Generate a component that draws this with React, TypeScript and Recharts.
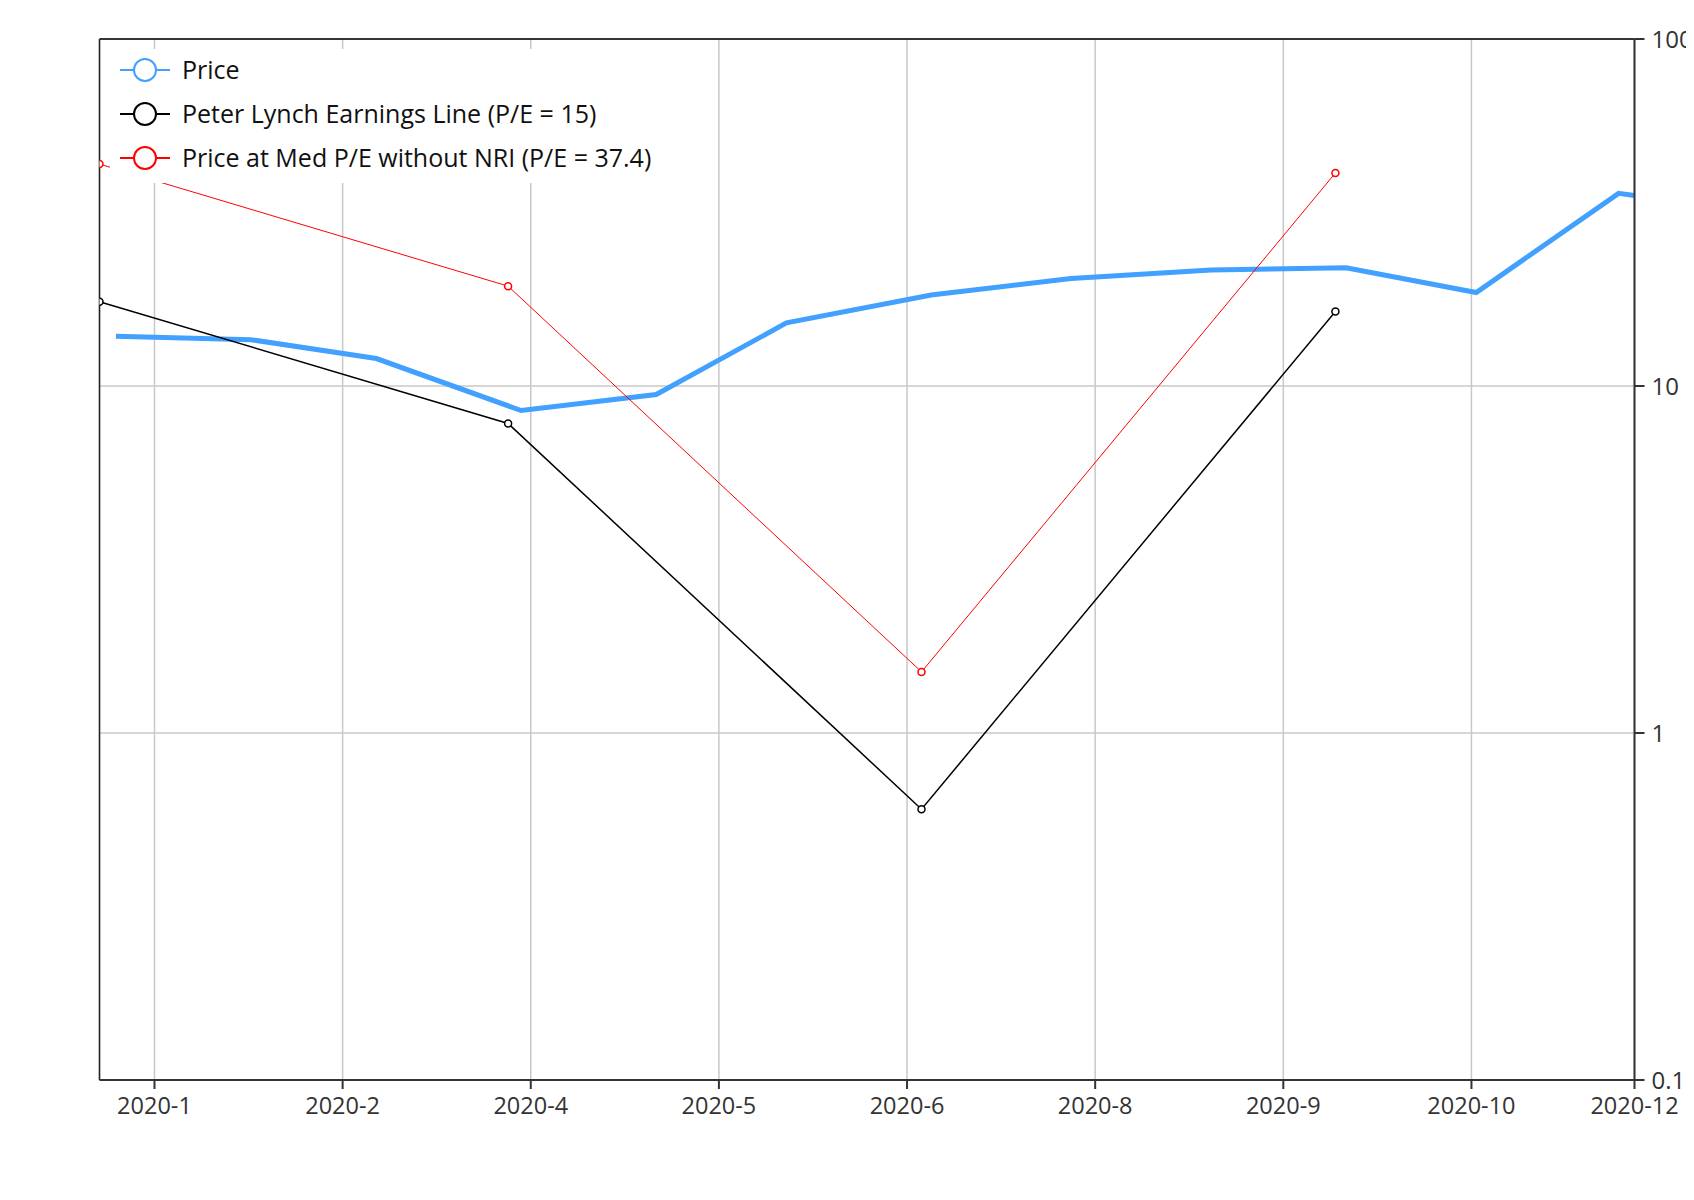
import { LineChart, Line, XAxis, YAxis, CartesianGrid, ReferenceLine } from 'recharts';

// x positions are days counted from 2020-01-01
const xDomain = [7.6, 325.8];
const xTicks = [19, 58, 97, 136, 175, 214, 253, 292, 325.8];
const xTickLabels = ['2020-1', '2020-2', '2020-4', '2020-5', '2020-6', '2020-8', '2020-9', '2020-10', '2020-12'];
const yTicks = [0.1, 1, 10, 100];

const priceDays = [11, 39, 65, 95, 123, 150, 180, 209, 238, 266, 293, 322.5, 325.8];
const priceValues = [13.9, 13.6, 12.0, 8.5, 9.45, 15.2, 18.3, 20.4, 21.6, 21.9, 18.6, 35.9, 35.4];

const earningsDays = [7.6, 92.3, 178, 263.8];
const lynchValues = [17.5, 7.8, 0.603, 16.4];
const medPeValues = [43.6, 19.4, 1.5, 41.1];

const priceData = priceDays.map((day, i) => ({ day, value: priceValues[i] }));
const lynchData = earningsDays.map((day, i) => ({ day, value: lynchValues[i] }));
const medPeData = earningsDays.map((day, i) => ({ day, value: medPeValues[i] }));

const legendItems = [
    { name: 'Price', color: '#42a0ff' },
    { name: 'Peter Lynch Earnings Line (P/E = 15)', color: '#000000' },
    { name: 'Price at Med P/E without NRI (P/E = 37.4)', color: '#ff0000' },
];

const FONT = '"Open Sans", sans-serif';

function LegendBox() {
    return (
        <div
            style={{
                position: 'absolute',
                left: 102,
                top: 41,
                background: '#fff',
                width: 555,
                height: 134,
                fontFamily: FONT,
            }}
        >
            <div style={{ marginTop: -1.5 }}>
                {legendItems.map((item) => (
                    <div key={item.name} style={{ display: 'flex', alignItems: 'center', height: 44.4 }}>
                        <svg width={62} height={28} style={{ marginLeft: 10, flexShrink: 0 }}>
                            <line x1={0} y1={14} x2={50} y2={14} stroke={item.color} strokeWidth={2} />
                            <circle cx={25} cy={14} r={11} fill="#fff" stroke={item.color} strokeWidth={2} />
                        </svg>
                        <span style={{ fontSize: 25, color: '#111', whiteSpace: 'nowrap', marginTop: -2 }}>
                            {item.name}
                        </span>
                    </div>
                ))}
            </div>
        </div>
    );
}

export default function App() {
    const tickStyle = { fontSize: 23.5, fill: '#333', fontFamily: FONT };
    return (
        <div style={{ position: 'relative', width: 1686, height: 1180 }}>
            <LineChart width={1686} height={1180} margin={{ top: 31, right: 0, bottom: 68, left: 91.5 }}>
                <CartesianGrid stroke="#c8c8c8" strokeWidth={1.5} />
                <XAxis
                    dataKey="day"
                    type="number"
                    domain={xDomain}
                    ticks={xTicks}
                    allowDataOverflow
                    tickFormatter={(v: number) => xTickLabels[xTicks.indexOf(v)] ?? ''}
                    height={40}
                    stroke="#333"
                    strokeWidth={2}
                    tickSize={9}
                    tickMargin={8}
                    tick={tickStyle}
                    interval={0}
                />
                <YAxis
                    orientation="right"
                    scale="log"
                    domain={[0.1, 100]}
                    ticks={yTicks}
                    allowDataOverflow
                    width={59.5}
                    stroke="#333"
                    strokeWidth={2}
                    tickSize={10}
                    tickMargin={7}
                    tick={{ ...tickStyle, fontSize: 24, textAnchor: 'start' }}
                    tickFormatter={(v: number) => String(v)}
                    interval={0}
                />
                <ReferenceLine y={100} stroke="#000" strokeWidth={1.5} />
                <ReferenceLine x={xDomain[0]} stroke="#222" strokeWidth={1.5} />
                <Line
                    data={priceData}
                    dataKey="value"
                    type="linear"
                    stroke="#42a0ff"
                    strokeWidth={5}
                    dot={false}
                    isAnimationActive={false}
                />
                <Line
                    data={lynchData}
                    dataKey="value"
                    type="linear"
                    stroke="#000"
                    strokeWidth={1.5}
                    dot={{ r: 3.5, fill: '#fff', stroke: '#000', strokeWidth: 1.5 }}
                    isAnimationActive={false}
                />
                <Line
                    data={medPeData}
                    dataKey="value"
                    type="linear"
                    stroke="#ff0000"
                    strokeWidth={1}
                    dot={{ r: 3.5, fill: '#fff', stroke: '#ff0000', strokeWidth: 1.5 }}
                    isAnimationActive={false}
                />
            </LineChart>
            <LegendBox />
        </div>
    );
}
